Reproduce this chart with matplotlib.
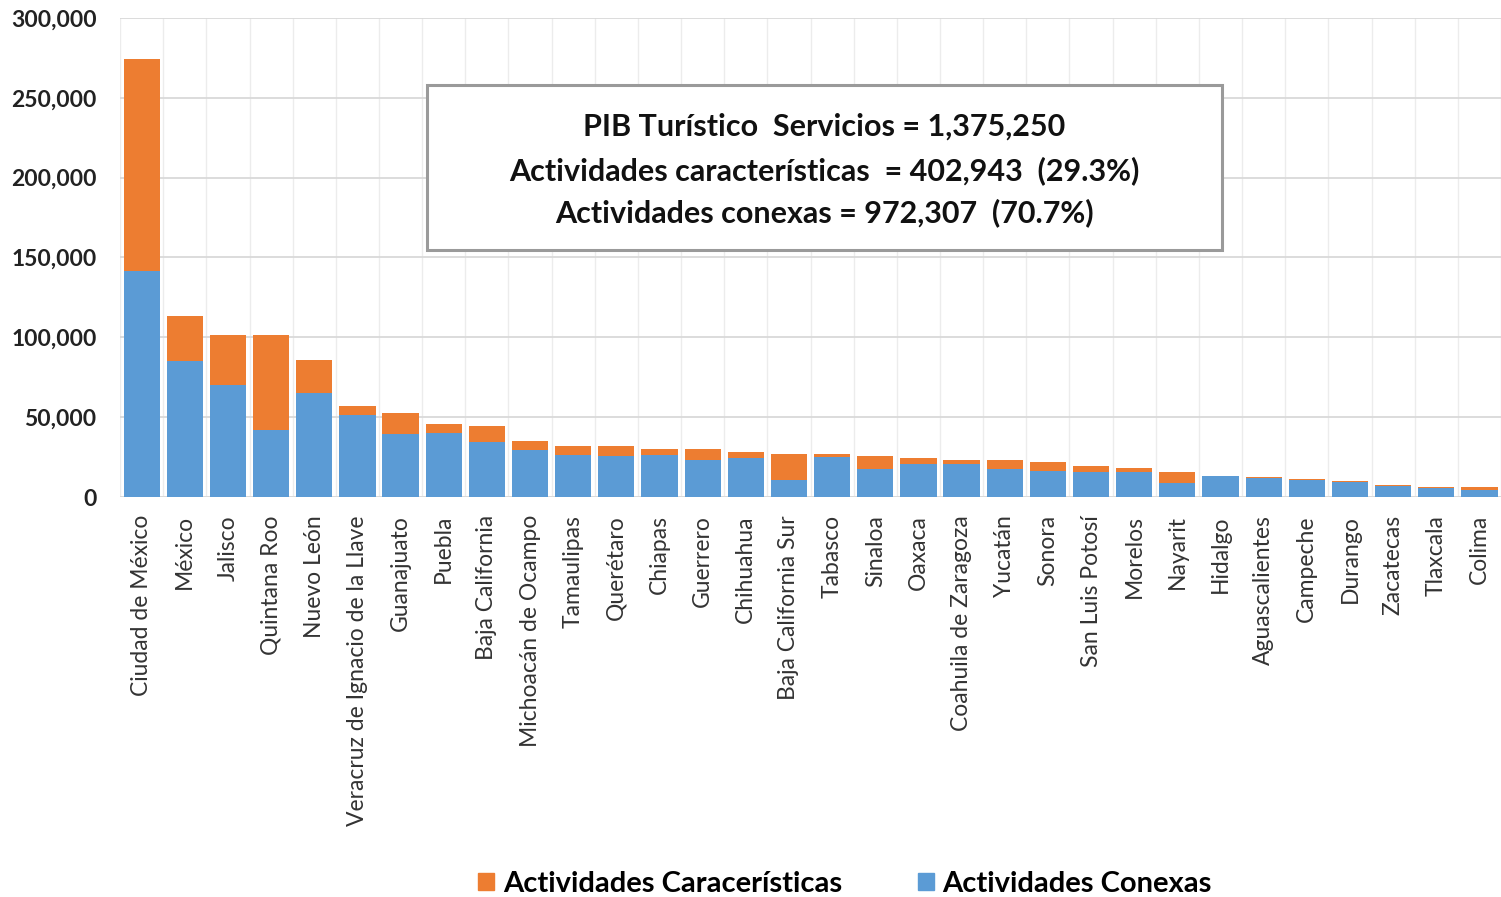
import numpy as np
import matplotlib
matplotlib.use('Agg')
import matplotlib.pyplot as plt
from matplotlib.patches import Rectangle, Patch
from matplotlib.ticker import FuncFormatter

estados = ['Ciudad de México', 'México', 'Jalisco', 'Quintana Roo', 'Nuevo León',
           'Veracruz de Ignacio de la Llave', 'Guanajuato', 'Puebla', 'Baja California',
           'Michoacán de Ocampo', 'Tamaulipas', 'Querétaro', 'Chiapas', 'Guerrero',
           'Chihuahua', 'Baja California Sur', 'Tabasco', 'Sinaloa', 'Oaxaca',
           'Coahuila de Zaragoza', 'Yucatán', 'Sonora', 'San Luis Potosí', 'Morelos',
           'Nayarit', 'Hidalgo', 'Aguascalientes', 'Campeche', 'Durango', 'Zacatecas',
           'Tlaxcala', 'Colima']

# actividades conexas (azul, abajo)
conexas = [141500, 85200, 70000, 42200, 65400, 51600, 39700, 40100, 34400,
           29200, 26100, 25500, 26100, 23000, 24400, 10500, 25000, 17800, 20900,
           20500, 17800, 16300, 15700, 15700, 8800, 13000, 12000, 10800, 9700,
           7200, 5900, 4600]
# totales por estado
totales = [274000, 113200, 101300, 101300, 85600, 56800, 52800, 46000, 44300,
           35100, 31700, 31700, 30300, 30300, 28200, 26700, 26700, 25500, 24200,
           23000, 23000, 21900, 19400, 18200, 15900, 13400, 12300, 11100, 10000,
           7500, 6300, 6300]
caracteristicas = [t - c for t, c in zip(totales, conexas)]

resumen = ['PIB Turístico  Servicios = 1,375,250',
           'Actividades características  = 402,943  (29.3%)',
           'Actividades conexas = 972,307  (70.7%)']

naranja = '#ED7D31'
azul = '#5B9BD5'

plt.rcParams['font.family'] = ['Lato', 'DejaVu Sans']

fig = plt.figure(figsize=(15.01, 8.97), dpi=100)
ax = fig.add_axes([0.08, 0.4459, 0.92, 0.5341])

x = np.arange(len(estados))
ax.bar(x, conexas, width=0.84, color=azul, zorder=3)
ax.bar(x, caracteristicas, width=0.84, bottom=conexas, color=naranja, zorder=3)

ax.set_ylim(0, 300000)
ax.set_xlim(-0.5, 31.25)
ax.set_yticks(np.arange(0, 300001, 50000))
ax.yaxis.set_major_formatter(FuncFormatter(lambda v, p: '{:,.0f}'.format(v)))
ax.tick_params(axis='y', length=0, pad=17, labelsize=16.5, labelcolor='#222222')
for lab in ax.get_yticklabels():
    lab.set_fontweight('bold')

ax.set_xticks(x)
ax.set_xticklabels(estados, rotation=90, fontsize=16.5, color='#333333')
ax.tick_params(axis='x', length=0, pad=13)

# lineas de cuadricula
ax.grid(axis='y', color='#d9d9d9', linewidth=1.3, zorder=0)
ax.set_xticks(np.arange(-0.5, 32, 1), minor=True)
ax.grid(axis='x', which='minor', color='#ececec', linewidth=1.0, zorder=0)
ax.tick_params(axis='x', which='minor', length=0)
for s in ax.spines.values():
    s.set_visible(False)
ax.axhline(0, color='#d9d9d9', linewidth=1.3, zorder=2)

# cuadro de resumen
caja = Rectangle((0.2845, 0.7213), 0.5296, 0.1839, transform=fig.transFigure,
                 facecolor='white', edgecolor='#9a9a9a', linewidth=2.2, zorder=5,
                 clip_on=False)
ax.add_patch(caja)
for yy, txt in zip([0.8584, 0.8094, 0.7625], resumen):
    fig.text(0.5493, yy, txt, ha='center', va='center', fontsize=22,
             fontweight='bold', color='#111111', zorder=6)

handles = [Patch(color=naranja, label='Actividades Caracerísticas'),
           Patch(color=azul, label='Actividades Conexas')]
fig.legend(handles=handles, loc='center', bbox_to_anchor=(0.563, 0.0145), ncol=2,
           frameon=False, prop={'size': 21, 'weight': 'bold'},
           handlelength=0.55, handleheight=0.55, handletextpad=0.3, columnspacing=2.6)

fig.savefig('out.png', dpi=100, facecolor='white')
